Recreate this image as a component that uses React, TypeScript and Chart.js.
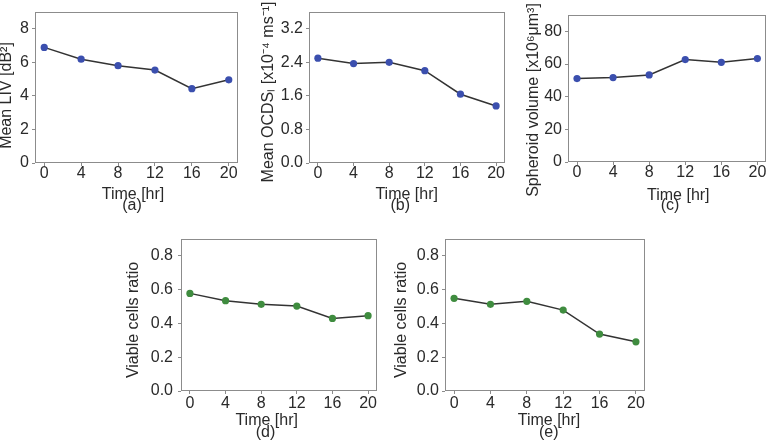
import React, { useEffect, useRef } from "react";
import { Chart, registerables } from "chart.js";

Chart.register(...registerables);

// ---- data ----
const times = [0, 4, 8, 12, 16, 20];
const xTickValues = [0, 4, 8, 12, 16, 20];

const meanLIV = [6.89, 6.19, 5.8, 5.54, 4.43, 4.96];
const meanOCDS = [2.5, 2.37, 2.4, 2.2, 1.64, 1.36];
const spheroidVolume = [51.1, 51.7, 53.3, 62.7, 61.0, 63.3];
const viableCellsD = [0.578, 0.535, 0.513, 0.503, 0.43, 0.446];
const viableCellsE = [0.549, 0.513, 0.531, 0.479, 0.337, 0.291];

const yTicksLIV = [0, 2, 4, 6, 8];
const yLabelsLIV = ["0", "2", "4", "6", "8"];
const yTicksOCDS = [0, 0.8, 1.6, 2.4, 3.2];
const yLabelsOCDS = ["0.0", "0.8", "1.6", "2.4", "3.2"];
const yTicksVol = [0, 20, 40, 60, 80];
const yLabelsVol = ["0", "20", "40", "60", "80"];
const yTicksRatio = [0, 0.2, 0.4, 0.6, 0.8];
const yLabelsRatio = ["0.0", "0.2", "0.4", "0.6", "0.8"];

const xTitle = "Time [hr]";
const captions = ["(a)", "(b)", "(c)", "(d)", "(e)"];
const yTitles = [
  "Mean LIV [dB²]",
  "Mean OCDSₗ [x10⁻⁴ ms⁻¹]",
  "Spheroid volume [x10⁶μm³]",
  "Viable cells ratio",
  "Viable cells ratio",
];

// ---- styles ----
const FONT = "'Liberation Sans', Arial, Helvetica, sans-serif";
const TEXT = "#2a2a2a";
const FRAME = "#8c8c8c";
const LINE = "#333333";
const BLUE = "#3b4fae";
const GREEN = "#3f8c3f";

type Panel = {
  values: number[];
  color: string;
  yMax: number;
  yTicks: number[];
  yLabels: string[];
  yTitle: string;
  caption: string;
  box: { left: number; top: number; width: number; height: number };
  area: { l: number; t: number; r: number; b: number };
  yTitleX: number;
  yTitleY: number;
  yTickPad: number;
  xTickPad: number;
  xTitleCx: number;
  capCx: number;
  xTitleBase: number;
  capBase: number;
};

const panels: Panel[] = [
  {
    values: meanLIV, color: BLUE, yMax: 9, yTicks: yTicksLIV, yLabels: yLabelsLIV,
    yTitle: yTitles[0], caption: captions[0],
    box: { left: 0, top: 0, width: 255, height: 222 },
    area: { l: 35, t: 12, r: 238, b: 163 },
    yTitleX: 6.8, yTitleY: 95.5, yTickPad: 3, xTickPad: 0,
    xTitleCx: 133, capCx: 132, xTitleBase: 199.3, capBase: 210,
  },
  {
    values: meanOCDS, color: BLUE, yMax: 3.6, yTicks: yTicksOCDS, yLabels: yLabelsOCDS,
    yTitle: yTitles[1], caption: captions[1],
    box: { left: 258, top: 0, width: 257, height: 222 },
    area: { l: 309, t: 12, r: 505, b: 163 },
    yTitleX: 268.5, yTitleY: 92, yTickPad: 3, xTickPad: 0,
    xTitleCx: 406.7, capCx: 400.3, xTitleBase: 199.3, capBase: 210,
  },
  {
    values: spheroidVolume, color: BLUE, yMax: 90, yTicks: yTicksVol, yLabels: yLabelsVol,
    yTitle: yTitles[2], caption: captions[2],
    box: { left: 524, top: 0, width: 246, height: 222 },
    area: { l: 568, t: 15, r: 769, b: 162 },
    yTitleX: 533.5, yTitleY: 100, yTickPad: 3, xTickPad: 0,
    xTitleCx: 678.3, capCx: 670, xTitleBase: 199.8, capBase: 210,
  },
  {
    values: viableCellsD, color: GREEN, yMax: 0.9, yTicks: yTicksRatio, yLabels: yLabelsRatio,
    yTitle: yTitles[3], caption: captions[3],
    box: { left: 120, top: 222, width: 270, height: 222 },
    area: { l: 181, t: 239, r: 377, b: 391 },
    yTitleX: 133.8, yTitleY: 320, yTickPad: 5, xTickPad: 1.6,
    xTitleCx: 266.7, capCx: 265.5, xTitleBase: 424.8, capBase: 436.6,
  },
  {
    values: viableCellsE, color: GREEN, yMax: 0.9, yTicks: yTicksRatio, yLabels: yLabelsRatio,
    yTitle: yTitles[4], caption: captions[4],
    box: { left: 390, top: 222, width: 270, height: 222 },
    area: { l: 445, t: 239, r: 645, b: 391 },
    yTitleX: 401.8, yTitleY: 320, yTickPad: 3, xTickPad: 1.6,
    xTitleCx: 549, capCx: 548.7, xTitleBase: 424.8, capBase: 436.6,
  },
];

const framePlugin = {
  id: "frameBox",
  afterDraw(chart: any) {
    const { ctx, chartArea } = chart;
    const l = Math.round(chartArea.left);
    const t = Math.round(chartArea.top);
    const r = Math.round(chartArea.right);
    const b = Math.round(chartArea.bottom);
    ctx.save();
    ctx.strokeStyle = FRAME;
    ctx.lineWidth = 1;
    ctx.strokeRect(l + 0.5, t + 0.5, r - l - 1, b - t - 1);
    ctx.restore();
  },
};

function makeTextPlugin(p: Panel) {
  return {
    id: "axisTitles",
    afterDraw(chart: any) {
      const ctx = chart.ctx;
      ctx.save();
      ctx.fillStyle = TEXT;
      ctx.font = `16px ${FONT}`;
      ctx.textAlign = "center";
      ctx.textBaseline = "alphabetic";
      ctx.fillText(xTitle, p.xTitleCx - p.box.left, p.xTitleBase - p.box.top);
      ctx.fillText(p.caption, p.capCx - p.box.left, p.capBase - p.box.top);
      ctx.translate(p.yTitleX - p.box.left, p.yTitleY - p.box.top);
      ctx.rotate(-Math.PI / 2);
      ctx.textBaseline = "middle";
      ctx.fillText(p.yTitle, 0, 0);
      ctx.restore();
    },
  };
}

function PanelChart({ p }: { p: Panel }) {
  const ref = useRef<HTMLCanvasElement | null>(null);
  useEffect(() => {
    if (!ref.current) return;
    const tickFont = { family: FONT, size: 16, lineHeight: 1 };
    const chart = new Chart(ref.current, {
      type: "line",
      data: {
        datasets: [
          {
            data: times.map((t, i) => ({ x: t, y: p.values[i] })),
            borderColor: LINE,
            borderWidth: 1.5,
            pointRadius: 3.6,
            pointHoverRadius: 3.6,
            pointBackgroundColor: p.color,
            pointBorderColor: p.color,
            pointBorderWidth: 0,
            tension: 0,
            fill: false,
          },
        ],
      },
      options: {
        responsive: false,
        animation: false,
        devicePixelRatio: 1,
        events: [],
        layout: {
          padding: {
            left: 0,
            top: p.area.t - p.box.top,
            right: p.box.left + p.box.width - p.area.r,
            bottom: 0,
          },
        },
        plugins: { legend: { display: false }, tooltip: { enabled: false } },
        scales: {
          x: {
            type: "linear",
            min: -1,
            max: 21,
            afterBuildTicks: (s: any) => {
              s.ticks = xTickValues.map((v) => ({ value: v }));
            },
            afterFit: (s: any) => {
              s.height = p.box.top + p.box.height - p.area.b;
            },
            ticks: {
              font: tickFont,
              color: TEXT,
              padding: p.xTickPad,
              autoSkip: false,
              maxRotation: 0,
              callback: (v: any) => String(v),
            },
            grid: { display: true, drawOnChartArea: false, drawTicks: true, tickLength: 3, color: FRAME, lineWidth: 1 },
            border: { display: false },
          },
          y: {
            type: "linear",
            min: 0,
            max: p.yMax,
            afterBuildTicks: (s: any) => {
              s.ticks = p.yTicks.map((v) => ({ value: v }));
            },
            afterFit: (s: any) => {
              s.width = p.area.l - p.box.left;
            },
            ticks: {
              font: tickFont,
              color: TEXT,
              padding: p.yTickPad,
              autoSkip: false,
              callback: (v: any) => {
                const i = p.yTicks.findIndex((t) => Math.abs(t - v) < 1e-9);
                return i >= 0 ? p.yLabels[i] : "";
              },
            },
            grid: { display: true, drawOnChartArea: false, drawTicks: true, tickLength: 3, color: FRAME, lineWidth: 1 },
            border: { display: false },
            title: { display: false },
          },
        },
      } as any,
      plugins: [framePlugin, makeTextPlugin(p)],
    });
    return () => chart.destroy();
  }, [p]);
  return (
    <canvas
      ref={ref}
      width={p.box.width}
      height={p.box.height}
      style={{
        position: "absolute",
        left: p.box.left,
        top: p.box.top,
        width: p.box.width,
        height: p.box.height,
      }}
    />
  );
}

export default function App() {
  return (
    <div
      style={{
        position: "fixed",
        left: 0,
        top: 0,
        width: 770,
        height: 444,
        background: "#ffffff",
        overflow: "hidden",
      }}
    >
      {panels.map((p, i) => (
        <PanelChart key={i} p={p} />
      ))}
    </div>
  );
}
